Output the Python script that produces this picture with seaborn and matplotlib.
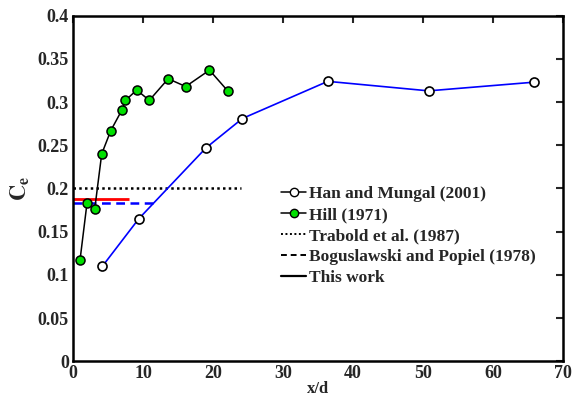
import matplotlib
matplotlib.use("Agg")
import matplotlib.pyplot as plt
from matplotlib.lines import Line2D
import seaborn as sns
import pandas as pd

# Han and Mungal (2001)
han_x = [4.2, 9.4, 19.0, 24.2, 36.4, 50.8, 65.8]
han_y = [0.110, 0.165, 0.247, 0.281, 0.324, 0.313, 0.323]

# Hill (1971)
hill_x = [1.0, 2.0, 3.1, 4.1, 5.4, 7.0, 7.5, 9.1, 10.9, 13.6, 16.1, 19.5, 22.1]
hill_y = [0.117, 0.183, 0.176, 0.240, 0.267, 0.291, 0.302, 0.314, 0.302, 0.327, 0.318, 0.337, 0.313]

# Reference constant values and their x extents
trabold_y, trabold_xmax = 0.200, 24.0
bogus_y, bogus_xmax = 0.183, 11.5
this_y, this_xmax = 0.188, 8.0

legend_labels = ["Han and Mungal (2001)", "Hill (1971)", "Trabold et al. (1987)",
                 "Boguslawski and Popiel (1978)", "This work"]

sns.set_style("white")
plt.rcParams["font.family"] = ["Liberation Serif", "DejaVu Serif"]
plt.rcParams["font.weight"] = "bold"
plt.rcParams["mathtext.fontset"] = "stix"

fig = plt.figure(figsize=(5.73, 3.98), dpi=100)
ax = fig.add_axes([0.1274, 0.0922, 0.8551, 0.8684])

han = pd.DataFrame({"x": han_x, "y": han_y})
hill = pd.DataFrame({"x": hill_x, "y": hill_y})

sns.lineplot(data=han, x="x", y="y", sort=False, ax=ax, color="#0000ff", lw=1.2,
             marker="o", markersize=6.5, markerfacecolor="white",
             markeredgecolor="black", markeredgewidth=1.2, zorder=3)
sns.lineplot(data=hill, x="x", y="y", sort=False, ax=ax, color="black", lw=1.1,
             marker="o", markersize=6.5, markerfacecolor="#00e000",
             markeredgecolor="black", markeredgewidth=1.1, zorder=4)

ax.hlines(trabold_y, 0, trabold_xmax, colors="black", linestyles=(0, (1, 1.3)), lw=1.8, zorder=2)
ax.hlines(bogus_y, 0, bogus_xmax, colors="#0000ff", linestyles=(0, (3.5, 2.2)), lw=1.8, zorder=2)
ax.hlines(this_y, 0, this_xmax, colors="#ff0000", linestyles="-", lw=2.0, zorder=2)

ax.set_xlim(0, 70)
ax.set_ylim(0, 0.4)
ax.set_xticks(range(0, 71, 10))
ax.set_yticks([0, 0.05, 0.1, 0.15, 0.2, 0.25, 0.3, 0.35, 0.4])
ax.set_yticklabels(["0", "0.05", "0.1", "0.15", "0.2", "0.25", "0.3", "0.35", "0.4"])

ax.tick_params(direction="in", length=5, width=1.5, top=True, right=True,
               labelsize=13, pad=3)
for lab in ax.get_xticklabels() + ax.get_yticklabels():
    lab.set_fontweight("bold")
for sp in ax.spines.values():
    sp.set_linewidth(1.8)
    sp.set_color("black")

ax.set_xlabel("x/d", fontsize=12, fontweight="bold", labelpad=-1)
ax.set_ylabel(r"$\mathrm{C_e}$", fontsize=16, labelpad=4)

handles = [
    Line2D([], [], color="black", lw=1.1, marker="o", markersize=6,
           markerfacecolor="white", markeredgecolor="black"),
    Line2D([], [], color="black", lw=1.1, marker="o", markersize=6,
           markerfacecolor="#00e000", markeredgecolor="black"),
    Line2D([], [], color="black", lw=1.4, linestyle=(0, (1, 1.3))),
    Line2D([], [], color="black", lw=1.4, linestyle=(0, (3, 2))),
    Line2D([], [], color="black", lw=1.6, linestyle="-"),
]
ax.legend(handles, legend_labels, loc="upper left", bbox_to_anchor=(0.425, 0.508),
          frameon=False, handlelength=1.45, handletextpad=0.15, labelspacing=0.28,
          prop={"family": "Liberation Serif", "weight": "bold", "size": 12.5},
          borderaxespad=0, borderpad=0)

fig.savefig("out.png", dpi=100)
